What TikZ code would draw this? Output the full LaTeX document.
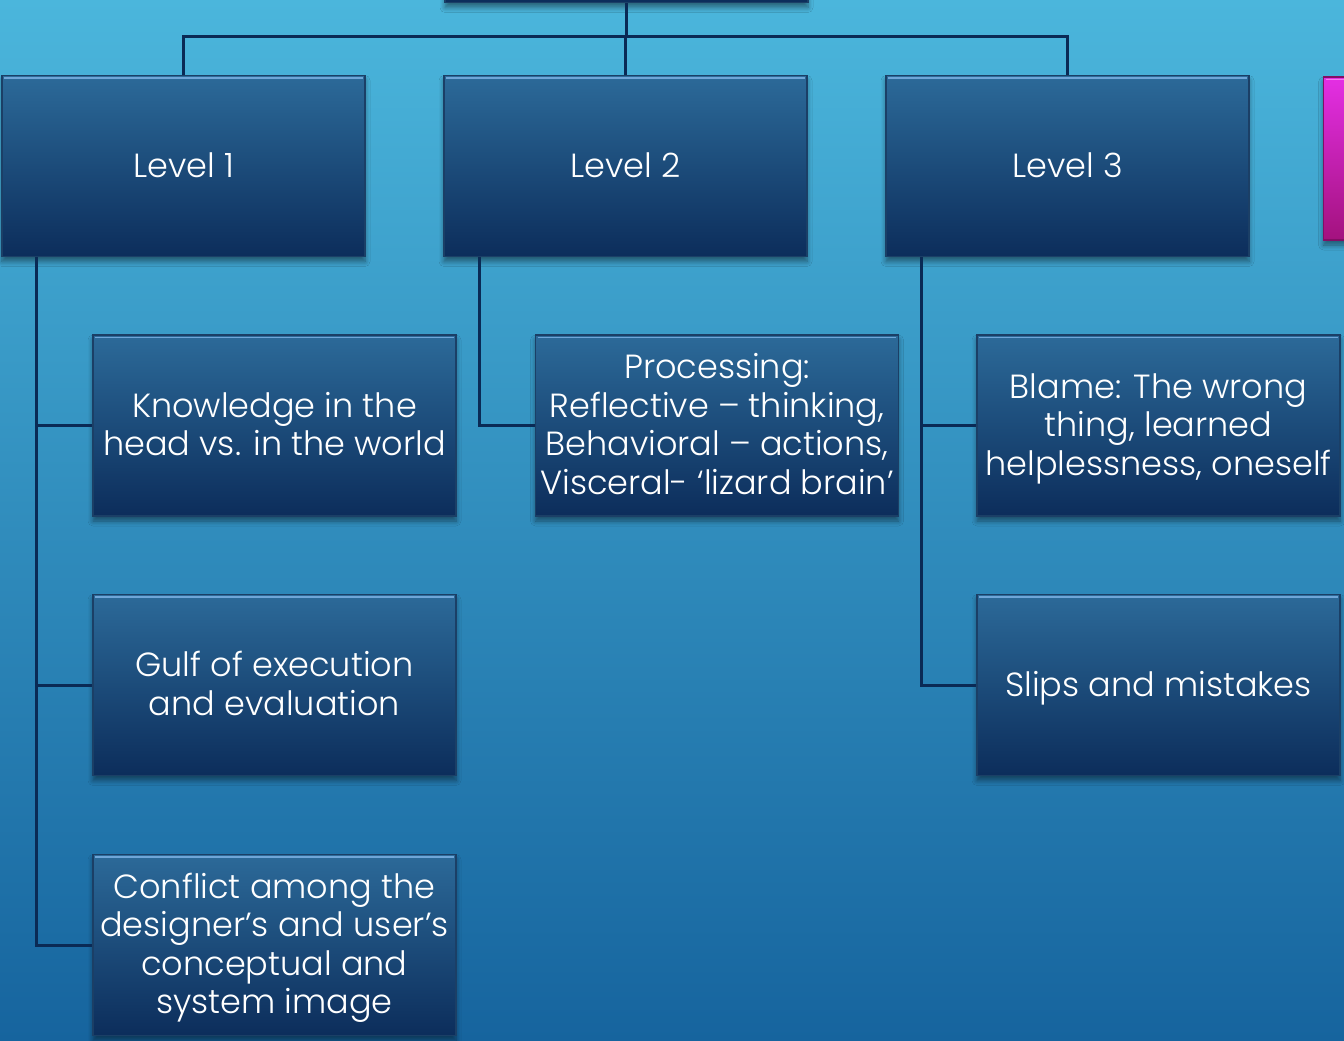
\documentclass[tikz,border=0pt]{standalone}
\usepackage{fontspec}
\setmainfont{Poppins}[UprightFont={* Light}]
\usetikzlibrary{calc,shadows.blur}
\definecolor{bgtop}{HTML}{4BB6DC}
\definecolor{bgbot}{HTML}{16649E}
\definecolor{boxtop}{HTML}{2C6A99}
\definecolor{boxbot}{HTML}{0C2D5B}
\definecolor{boxedge}{HTML}{1B3F66}
\definecolor{hilite}{HTML}{6FA6D8}
\definecolor{linkcol}{HTML}{0A2A55}
\definecolor{magtop}{HTML}{E42FE4}
\definecolor{magbot}{HTML}{A3127E}
\newcommand\boxtext[1]{\raisebox{-3.5pt}[\height][\depth]{\begin{tabular}{@{}c@{}}#1\end{tabular}}}
\tikzset{
  box/.style={rectangle, draw=boxedge, line width=1.2pt,
    top color=boxtop, bottom color=boxbot, text=white,
    minimum width=363pt, minimum height=181pt, inner sep=0pt,
    font=\fontsize{33.5}{38.5}\selectfont,
    blur shadow={shadow xshift=0pt, shadow yshift=-5pt, shadow blur steps=6, shadow blur radius=5pt, shadow opacity=45}},
  magbox/.style={box, top color=magtop, bottom color=magbot, draw=magbot!80!black},
  link/.style={draw=linkcol, line width=3pt},
}
\begin{document}
\begin{tikzpicture}[x=1pt,y=-1pt]
\useasboundingbox (0,0) rectangle (1344,1041);
\clip (0,0) rectangle (1344,1041);
\shade[top color=bgtop, bottom color=bgbot] (0,0) rectangle (1344,1041);

\node[box] (top) at (626.5,-88) {};
\node[box] (L1) at (183.5,166) {\boxtext{Level 1}};
\node[box] (L2) at (625.5,166) {\boxtext{Level 2}};
\node[box] (L3) at (1067.5,166) {\boxtext{Level 3}};
\node[magbox, minimum height=163pt] (M) at (1505,158.5) {};

\node[box] (K) at (274.5,425.5) {\boxtext{Knowledge in the\\head vs. in the world}};
\node[box] (G) at (274.5,685) {\boxtext{Gulf of execution\\and evaluation}};
\node[box] (C) at (274.5,945) {\boxtext{Conflict among the\\designer’s and user’s\\conceptual and\\system image}};
\node[box] (P) at (717,425.5) {\boxtext{Processing:\\Reflective – thinking,\\Behavioral – actions,\\Visceral- ‘lizard brain’}};
\node[box] (B) at (1158.5,425.5) {\boxtext{Blame: The wrong\\thing, learned\\helplessness, oneself}};
\node[box] (S) at (1158.5,685) {\boxtext{Slips and mistakes}};

\path[link] (top.south) -- ++(0,33) -| (L1.north);
\path[link] (top.south) -- ++(0,33) -| (L2.north);
\path[link] (top.south) -- ++(0,33) -| (L3.north);
\path[link] ($(L1.south west)+(35,0)$) |- (K.west);
\path[link] ($(L1.south west)+(35,0)$) |- (G.west);
\path[link] ($(L1.south west)+(35,0)$) |- (C.west);
\path[link] ($(L2.south west)+(36,0)$) |- (P.west);
\path[link] ($(L3.south west)+(36,0)$) |- (B.west);
\path[link] ($(L3.south west)+(36,0)$) |- (S.west);

\foreach \n in {top,L1,L2,L3,K,G,C,P,B,S}{
  \draw[hilite, line width=1.5pt] ($(\n.north west)+(3,3)$) -- ($(\n.north east)+(-3,3)$);
}
\draw[magtop!60!white, line width=1.5pt] ($(M.north west)+(3,3)$) -- ($(M.north east)+(-3,3)$);
\end{tikzpicture}
\end{document}
